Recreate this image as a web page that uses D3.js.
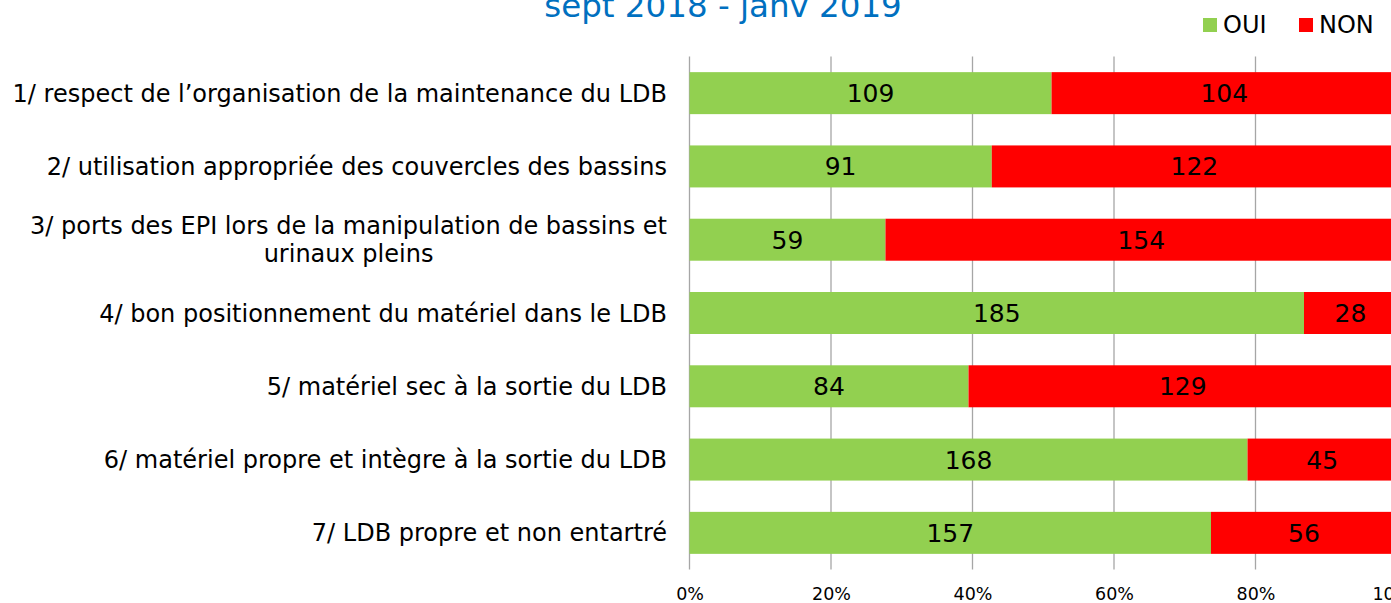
<!DOCTYPE html>
<html><head><meta charset="utf-8">
<script src="https://cdn.jsdelivr.net/npm/d3@7"></script>
<style>body{margin:0;background:#fff;overflow:hidden}svg{display:block}text{font-family:"DejaVu Sans",Verdana,sans-serif}</style>
</head><body>
<svg id="c" width="1391" height="603"></svg>
<script>
const categories = [
  ["1/ respect de l\u2019organisation de la maintenance du LDB"],
  ["2/ utilisation appropriée des couvercles des bassins"],
  ["3/ ports des EPI lors de la manipulation de bassins et", "urinaux pleins"],
  ["4/ bon positionnement du matériel dans le LDB"],
  ["5/ matériel sec à la sortie du LDB"],
  ["6/ matériel propre et intègre à la sortie du LDB"],
  ["7/ LDB propre et non entartré"]
];
const oui = [109, 91, 59, 185, 84, 168, 157];
const non = [104, 122, 154, 28, 129, 45, 56];
const seriesNames = ["OUI", "NON"];
const seriesColors = ["#92D050", "#FF0000"];
const tickValues = [0, 0.2, 0.4, 0.6, 0.8, 1.0];
const title = "sept 2018 - janv 2019";

const svg = d3.select("#c");
const x = d3.scaleLinear().domain([0, 1]).range([689.5, 1397]);
const y = d3.scaleBand().domain(d3.range(categories.length)).range([56.5, 569.5]).paddingInner(0.427).paddingOuter(0.2135);

// gridlines
svg.append("g").selectAll("line").data(tickValues).join("line")
  .attr("x1", d => x(d)).attr("x2", d => x(d))
  .attr("y1", 56.5).attr("y2", 569.5)
  .attr("stroke", "#A6A6A6").attr("stroke-width", 1.3);

// bars
const rows = categories.map((c, i) => {
  const t = oui[i] + non[i];
  return [{s:0, x0:0, x1:oui[i]/t, v:oui[i], i}, {s:1, x0:oui[i]/t, x1:1, v:non[i], i}];
}).flat();
svg.selectAll("rect.bar").data(rows).join("rect")
  .attr("x", d => x(d.x0)).attr("width", d => x(d.x1) - x(d.x0))
  .attr("y", d => y(d.i)).attr("height", y.bandwidth())
  .attr("fill", d => seriesColors[d.s]);
svg.selectAll("text.val").data(rows).join("text")
  .attr("x", d => (x(d.x0) + x(d.x1)) / 2)
  .attr("y", d => y(d.i) + y.bandwidth() / 2)
  .attr("dy", "0.36em").attr("text-anchor", "middle")
  .attr("font-size", 25).attr("fill", "#000")
  .text(d => d.v);

// category labels
const labelSize = 24;
categories.forEach((lines, i) => {
  const cy = y(i) + y.bandwidth() / 2;
  const lh = 28;
  const y0 = cy - (lines.length - 1) * lh / 2;
  const first = svg.append("text").attr("x", 667).attr("y", y0).attr("dy", "0.36em")
    .attr("text-anchor", "end").attr("font-size", labelSize).attr("fill", "#000").text(lines[0]);
  if (lines.length > 1) {
    const w = first.node().getComputedTextLength();
    const cx = 667 - w / 2;
    for (let k = 1; k < lines.length; k++) {
      svg.append("text").attr("x", cx).attr("y", y0 + k * lh).attr("dy", "0.36em")
        .attr("text-anchor", "middle").attr("font-size", labelSize).attr("fill", "#000").text(lines[k]);
    }
  }
});

// x axis
const axis = d3.axisBottom(x).tickValues(tickValues).tickFormat(d3.format(".0%")).tickSize(0).tickPadding(0);
const ax = svg.append("g").attr("transform", "translate(0,600)").call(axis);
ax.select(".domain").remove();
ax.selectAll("text").attr("font-size", 17.5).attr("fill", "#000").attr("dy", "0")
  .attr("font-family", '"DejaVu Sans",Verdana,sans-serif');

// title
svg.append("text").attr("x", 723).attr("y", 17).attr("text-anchor", "middle")
  .attr("font-size", 32.5).attr("fill", "#0070C0").text(title);

// legend
const leg = svg.append("g");
const legX = [1203, 1299];
seriesNames.forEach((n, k) => {
  leg.append("rect").attr("x", legX[k]).attr("y", 18).attr("width", 14).attr("height", 14).attr("fill", seriesColors[k]);
  leg.append("text").attr("x", legX[k] + 20).attr("y", 33)
    .attr("font-size", 24).attr("fill", "#000").text(n);
});
</script>
</body></html>
